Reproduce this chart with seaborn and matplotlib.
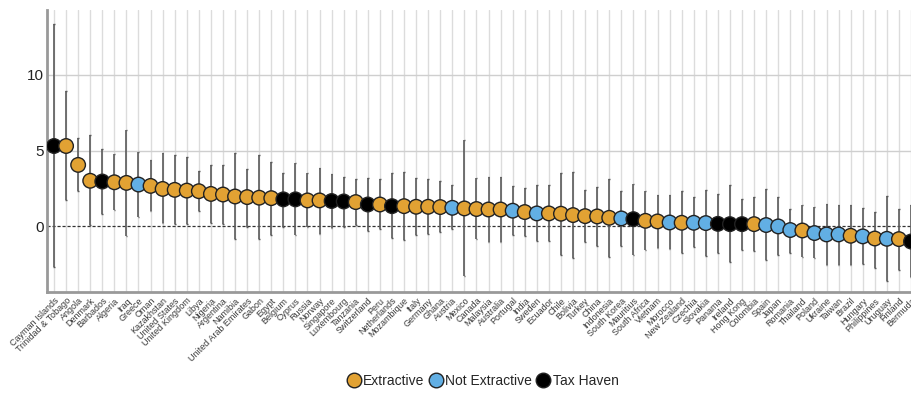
import numpy as np
import pandas as pd
import matplotlib
matplotlib.use("Agg")
import matplotlib.pyplot as plt
from matplotlib.lines import Line2D
import seaborn as sns

countries = ["Cayman Islands", "Trinidad & Tobago", "Angola", "Denmark", "Barbados", "Algeria",
             "Iraq", "Greece", "Oman", "Kazakhstan", "United States", "United Kingdom", "Libya",
             "Nigeria", "Argentina", "Namibia", "United Arab Emirates", "Gabon", "Egypt", "Belgium",
             "Cyprus", "Russia", "Norway", "Singapore", "Luxembourg", "Tanzania", "Switzerland",
             "Peru", "Netherlands", "Mozambique", "Italy", "Germany", "Ghana", "Austria", "Mexico",
             "Canada", "Malaysia", "Australia", "Portugal", "India", "Sweden", "Ecuador", "Chile",
             "Bolivia", "Turkey", "China", "Indonesia", "South Korea", "Mauritius", "South Africa",
             "Vietnam", "Morocco", "New Zealand", "Czechia", "Slovakia", "Panama", "Ireland",
             "Hong Kong", "Colombia", "Spain", "Japan", "Romania", "Thailand", "Poland", "Ukraine",
             "Taiwan", "Brazil", "Hungary", "Philippines", "Uruguay", "Finland", "Bermuda"]

E, N, T = "Extractive", "Not Extractive", "Tax Haven"
groups = [T, E, E, E, T, E,
          E, N, E, E, E, E, E,
          E, E, E, E, E, E, T,
          T, E, E, T, T, E, T,
          E, T, E, E, E, E, N, E,
          E, E, E, N, E, N, E, E,
          E, E, E, E, N, T, E,
          E, N, E, N, N, T, T,
          T, E, N, N, N, E, N, N,
          N, E, N, E, N, E, T]

values = [5.30, 5.30, 4.05, 3.00, 2.95, 2.90,
          2.86, 2.75, 2.66, 2.46, 2.40, 2.35, 2.31,
          2.13, 2.09, 1.96, 1.92, 1.88, 1.85, 1.77,
          1.77, 1.70, 1.70, 1.66, 1.63, 1.59, 1.43,
          1.43, 1.32, 1.32, 1.28, 1.28, 1.26, 1.21, 1.17,
          1.13, 1.10, 1.10, 1.02, 0.93, 0.84, 0.84, 0.82,
          0.73, 0.66, 0.64, 0.55, 0.51, 0.46, 0.35,
          0.31, 0.24, 0.22, 0.22, 0.20, 0.15, 0.13,
          0.13, 0.13, 0.07, -0.02, -0.26, -0.29, -0.46, -0.55,
          -0.55, -0.64, -0.68, -0.82, -0.84, -0.86, -1.02]

upper = [13.4, 8.95, 5.80, 6.00, 5.10, 4.77,
         6.35, 4.88, 4.37, 4.83, 4.73, 4.60, 3.65,
         4.07, 4.07, 4.81, 3.77, 4.70, 4.26, 3.49,
         4.17, 3.53, 3.84, 3.47, 3.27, 3.09, 3.20,
         3.09, 3.53, 3.60, 3.20, 3.09, 2.98, 2.69, 5.67,
         3.18, 3.27, 3.27, 2.63, 2.52, 2.69, 2.69, 3.53,
         3.60, 2.36, 2.60, 3.11, 2.32, 2.76, 2.32,
         2.08, 2.08, 2.30, 1.90, 2.36, 2.12, 2.69,
         1.81, 1.94, 2.43, 1.92, 1.15, 1.39, 1.24, 1.46,
         1.37, 1.40, 1.17, 0.94, 2.00, 1.10, 1.40]

lower = [-2.70, 1.70, 2.30, 0.05, 0.82, 1.08,
         -0.66, 0.57, 0.99, 0.20, 0.11, 0.11, 0.99,
         0.20, 0.11, -0.86, -0.03, -0.86, -0.60, -0.04,
         -0.60, -0.04, -0.49, -0.15, -0.04, 0.07, -0.33,
         -0.22, -0.79, -0.90, -0.60, -0.49, -0.40, -0.22, -3.29,
         -0.88, -1.06, -1.06, -0.57, -0.66, -0.97, -0.97, -1.88,
         -2.12, -1.06, -1.30, -2.05, -1.30, -1.88, -1.57,
         -1.43, -1.52, -1.79, -1.41, -1.96, -1.81, -2.38,
         -1.55, -1.63, -2.25, -1.94, -1.77, -2.03, -2.12, -2.56,
         -2.56, -2.60, -2.50, -2.76, -3.64, -2.90, -3.40]

ytick_vals = [0, 5, 10]
palette = {E: "#E2A233", N: "#62AFE4", T: "#000000"}
hue_order = [E, N, T]

df = pd.DataFrame({"country": countries, "group": groups, "value": values,
                   "upper": upper, "lower": lower})
df["idx"] = np.arange(len(df))

sns.set_theme(style="white")
plt.rcParams["font.family"] = ["Liberation Sans", "DejaVu Sans"]

fig = plt.figure(figsize=(9.11, 3.94), dpi=100)
ax = fig.add_axes([47 / 911, 1 - 292 / 394, (911 - 47) / 911, (292 - 10) / 394])

# vertical grid lines at every category
for i in df["idx"]:
    ax.axvline(i, color="#dcdcdc", lw=1.0, zorder=0)
for v in ytick_vals[1:]:
    ax.axhline(v, color="#cfcfcf", lw=1.0, zorder=0)
ax.axhline(0, color="#333333", lw=0.9, ls=(0, (2.5, 1.5)), zorder=1)

ax.vlines(df["idx"], df["lower"], df["upper"], color="#5a5a5a", lw=1.2, zorder=2)
ax.hlines(df["upper"], df["idx"] - 0.07, df["idx"] + 0.07, color="#5a5a5a", lw=1.0, zorder=2)
ax.hlines(df["lower"], df["idx"] - 0.07, df["idx"] + 0.07, color="#5a5a5a", lw=1.0, zorder=2)

sns.scatterplot(data=df, x="idx", y="value", hue="group", hue_order=hue_order,
                palette=palette, s=110, edgecolor="#222222", linewidth=1.0,
                legend=False, zorder=3, ax=ax)

ax.set_xlim(-0.58, 71.0)
ax.set_ylim(-4.36, 14.3)
ax.set_xticks(df["idx"])
ax.set_xticklabels(df["country"], rotation=45, ha="right", rotation_mode="anchor",
                   fontsize=6.5, color="#3a3a3a")
ax.set_yticks(ytick_vals)
ax.set_yticklabels([str(v) for v in ytick_vals], fontsize=11, color="#222222")
ax.tick_params(axis="both", length=0)
ax.tick_params(axis="y", pad=2)
ax.tick_params(axis="x", pad=3)
ax.set_xlabel("")
ax.set_ylabel("")

for s in ["top", "right"]:
    ax.spines[s].set_visible(False)
for s in ["left", "bottom"]:
    ax.spines[s].set_color("#999999")
    ax.spines[s].set_linewidth(2)

handles = [Line2D([0], [0], marker="o", ls="", markersize=10.5,
                  markerfacecolor=palette[g], markeredgecolor="#222222",
                  markeredgewidth=1.0, label=g) for g in hue_order]
fig.legend(handles=handles, loc="center", bbox_to_anchor=(0.53, 0.033), ncol=3,
           frameon=False, fontsize=10, handletextpad=0.2, columnspacing=0.3,
           handlelength=1.0)

fig.savefig("out.png", dpi=100)
